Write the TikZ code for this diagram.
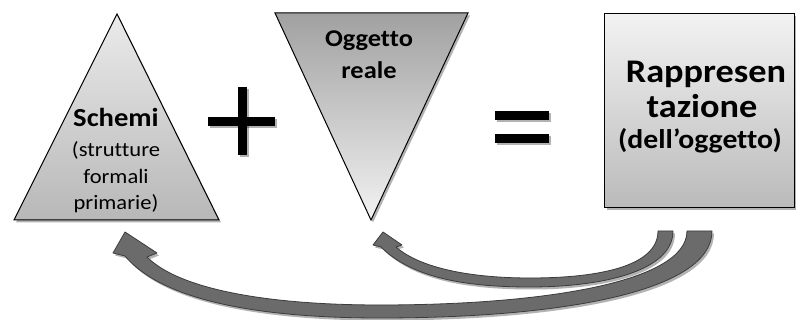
\documentclass[tikz,border=0pt]{standalone}
\usepackage{fontspec}
\setmainfont{Carlito}[Ligatures=NoCommon,FakeStretch=1.1]
\usetikzlibrary{shadows}
\definecolor{arrfill}{HTML}{6B6B6B}
\definecolor{arrline}{HTML}{3C3C3C}
\begin{document}
\begin{tikzpicture}[x=1pt,y=-1pt,
  shd/.style={drop shadow={shadow xshift=2pt,shadow yshift=-2.5pt,opacity=0.3,fill=black}},
  shp/.style={shd,draw=black,line width=1pt},
  sym/.style={fill=black,shd},
  arr/.style={fill=arrfill,draw=arrline,line width=0.8pt,line join=round,shd},
  lbl/.style={align=center,inner sep=0pt,anchor=base},
  big/.style={font=\bfseries\fontsize{33}{38}\selectfont},
  mid/.style={font=\bfseries\fontsize{26}{30}\selectfont},
  obj/.style={font=\bfseries\fontsize{24}{28}\selectfont},
  sub/.style={font=\bfseries\fontsize{27}{31}\selectfont},
  reg/.style={font=\fontsize{20.5}{24}\selectfont}]
\useasboundingbox (0,0) rectangle (796,320);
\fill[white] (0,0) rectangle (796,320);
% shapes
\path[shp,top color=white!92!black,bottom color=white!72!black]
  (117,14) -- (219,220) -- (14,220) -- cycle;
\path[shp,top color=white!63!black,bottom color=white!95!black]
  (275,13) -- (468,13) -- (371,220) -- cycle;
\node[shp,top color=white!95!black,bottom color=white!73!black,
  minimum width=190pt,minimum height=194pt,inner sep=0pt] (rep) at (699.5,111) {};
% plus and equals
\fill[sym] (208,117) rectangle (275,126);
\fill[sym] (238,87) rectangle (247,155);
\fill[sym] (495,111) rectangle (549,120);
\fill[sym] (495,134) rectangle (549,143);
% texts
\node[lbl,mid] (schemi) at (116,127) {Schemi};
\node[lbl,reg] (s1) at (116,157) {(strutture};
\node[lbl,reg] (s2) at (116,184) {formali};
\node[lbl,reg] (s3) at (116,210) {primarie)};
\node[lbl,obj] (o1) at (369,47) {Oggetto};
\node[lbl,obj] (o2) at (369,79) {reale};
\node[lbl,big] (r1) at (706,83) {Rappresen};
\node[lbl,big] (r2) at (702,118) {tazione};
\node[lbl,sub] (r3) at (700,149) {(dell’oggetto)};
% big arrow
\path[arr] (712,231) .. controls (712,292) and (560,318) .. (380,318)
  .. controls (250,318) and (160,298) .. (125,256)
  -- (113,253) -- (125,232) -- (157,253) -- (147,257)
  .. controls (180,290) and (270,305) .. (380,305)
  .. controls (540,305) and (687,283) .. (687,231) -- cycle;
% small arrow
\path[arr] (673,231) .. controls (673,272) and (600,287) .. (530,287)
  .. controls (460,287) and (410,276) .. (381,247)
  -- (373,245) -- (383,232) -- (402,245) -- (396,247)
  .. controls (420,268) and (470,278) .. (530,278)
  .. controls (600,278) and (658,266) .. (658,231) -- cycle;
\end{tikzpicture}
\end{document}
